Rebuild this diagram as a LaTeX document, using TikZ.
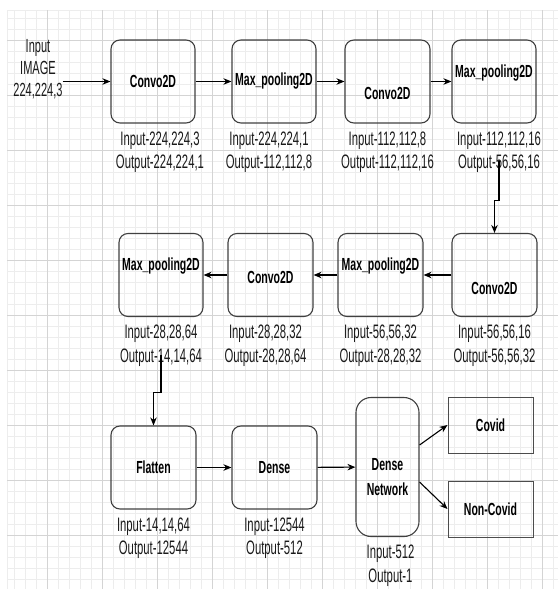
\documentclass[tikz,border=0pt]{standalone}
\usepackage{fontspec}
\setmainfont{Liberation Sans}[FakeStretch=0.58, BoldFeatures={FakeStretch=0.6}]
\usetikzlibrary{arrows.meta, positioning}

% move box text up or down without changing the box
\newcommand{\nudge}[2]{\raisebox{#1}[\height][\depth]{#2}}

\begin{document}
\begin{tikzpicture}[
    x=1pt, y=-1pt,
    minorline/.style={draw=black!7, line width=0.6pt},
    majorline/.style={draw=black!17, line width=0.8pt},
    block/.style={rectangle, draw=black!75, line width=1.1pt, rounded corners=9pt, minimum width=84pt, minimum height=83pt, inner sep=0pt, align=center, font=\fontsize{17.5}{25}\selectfont\bfseries},
    outbox/.style={block, rounded corners=0pt, minimum width=85pt, minimum height=56pt, draw=black!70, line width=1pt},
    dims/.style={inner sep=0pt, align=center, text=black!90, font=\fontsize{19.5}{23.5}\selectfont},
    arrow/.style={-{Stealth[length=8pt,width=6.5pt]}, line width=1.1pt}
]
    \useasboundingbox (0,0) rectangle (558,589);
    % background grid
    \foreach \x in {14,25,...,558} \draw[minorline] (\x,10) -- (\x,589);
    \foreach \y in {18,29,...,589} \draw[minorline] (7,\y) -- (558,\y);
    \draw[minorline] (7,10) -- (558,10);
    \draw[minorline] (7,10) -- (7,589);
    \foreach \x in {47,102,...,558} \draw[majorline] (\x,10) -- (\x,589);
    \foreach \y in {40,95,...,589} \draw[majorline] (7,\y) -- (558,\y);

    % first row
    \node [dims, font=\fontsize{19}{22}\selectfont] (input) at (38,69) {Input\\IMAGE\\224,224,3};
    \node [block] (c1) at (153,81.5) {Convo2D};
    \node [block] (m1) at (274,81.5) {Max\_pooling2D};
    \node [block, minimum width=85pt] (c2) at (387.5,81.5) {\nudge{-12pt}{Convo2D}};
    \node [block] (m2) at (494,81.5) {\nudge{8pt}{Max\_pooling2D}};
    \node [dims, below=8pt of c1, xshift=7pt] (c1lab) {Input-224,224,3\\Output-224,224,1};
    \node [dims, below=8pt of m1, xshift=-5pt] (m1lab) {Input-224,224,1\\Output-112,112,8};
    \node [dims, below=8pt of c2] (c2lab) {Input-112,112,8\\Output-112,112,16};
    \node [dims, below=8pt of m2, xshift=5pt] (m2lab) {Input-112,112,16\\Output-56,56,16};

    % second row
    \node [block] (m3) at (161,275) {\nudge{9pt}{Max\_pooling2D}};
    \node [block, minimum width=85pt] (c3) at (270.5,275) {\nudge{-2pt}{Convo2D}};
    \node [block, minimum width=85pt] (m4) at (380.5,275) {\nudge{9pt}{Max\_pooling2D}};
    \node [block, minimum width=85pt] (c4) at (494.5,275) {\nudge{-13pt}{Convo2D}};
    \node [dims, below=8pt of m3] (m3lab) {Input-28,28,64\\Output-14,14,64};
    \node [dims, below=8pt of c3, xshift=-5pt] (c3lab) {Input-28,28,32\\Output-28,28,64};
    \node [dims, below=8pt of m4] (m4lab) {Input-56,56,32\\Output-28,28,32};
    \node [dims, below=8pt of c4] (c4lab) {Input-56,56,16\\Output-56,56,32};

    % third row
    \node [block, minimum width=85pt] (flat) at (153.5,467.5) {Flatten};
    \node [block, minimum width=85pt] (dense) at (274.5,467.5) {Dense};
    \node [block, rounded corners=15pt, minimum width=63pt, minimum height=139pt] (dnet) at (387.5,467) {\nudge{-11pt}{\begin{tabular}{@{}c@{}}Dense\\Network\end{tabular}}};
    \node [outbox] (covid) at (490.5,425) {Covid};
    \node [outbox] (noncovid) at (490.5,509) {Non-Covid};
    \node [dims, below=8pt of flat] (flatlab) {Input-14,14,64\\Output-12544};
    \node [dims, below=8pt of dense] (denselab) {Input-12544\\Output-512};
    \node [dims, below=8pt of dnet, xshift=3pt] (dnetlab) {Input-512\\Output-1};

    % connectors
    \draw [arrow] (input.east |- c1.west) -- (c1.west);
    \draw [arrow] (c1) -- (m1);
    \draw [arrow] (m1) -- (c2);
    \draw [arrow] (c2) -- (m2);
    \draw [arrow] ([yshift=12pt]m2lab.south) -- ++(0,39) -| (c4.north);
    \draw [arrow] (c4) -- (m4);
    \draw [arrow] (m4) -- (c3);
    \draw [arrow] (c3) -- (m3);
    \draw [arrow] ([yshift=12pt]m3lab.south) -- ++(0,38) -| (flat.north);
    \draw [arrow] (flat) -- (dense);
    \draw [arrow] (dense) -- (dnet);
    \draw [arrow] ([yshift=22pt]dnet.east) -- (covid.west);
    \draw [arrow] ([yshift=-15pt]dnet.east) -- (noncovid.west);
\end{tikzpicture}
\end{document}
